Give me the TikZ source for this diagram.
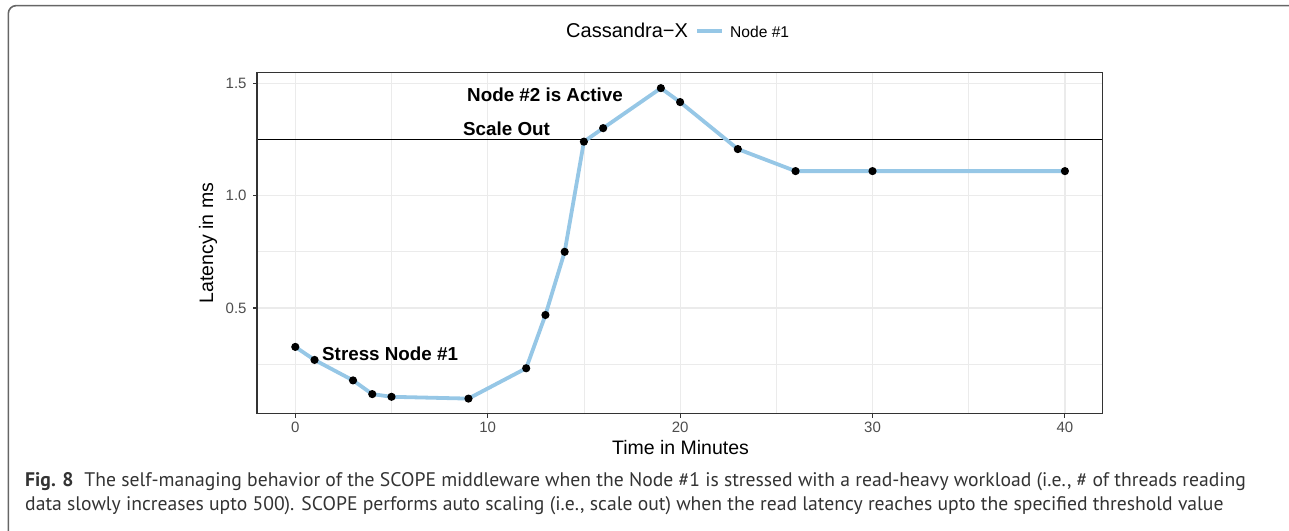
\documentclass[tikz,border=0pt]{standalone}
\usepackage{fontspec}
\newfontfamily\plotfont{Liberation Sans}
\newfontfamily\capfont{PT Sans}
\definecolor{gridc}{HTML}{EBEBEB}
\definecolor{axisc}{HTML}{333333}
\definecolor{tickc}{HTML}{4D4D4D}
\definecolor{linec}{HTML}{96C7E6}
\definecolor{capc}{HTML}{333333}
\tikzset{
  majorgrid/.style={draw=gridc, line width=1.2pt},
  minorgrid/.style={draw=gridc, line width=0.7pt},
  ticklab/.style={font=\plotfont\fontsize{15}{15}\selectfont, text=tickc, inner sep=0pt},
  axtitle/.style={font=\plotfont\fontsize{19.5}{20}\selectfont, text=black, inner sep=0pt},
  annot/.style={font=\plotfont\bfseries\fontsize{18.8}{19}\selectfont, text=black, inner sep=0pt},
  capline/.style={font=\capfont\fontsize{19.65}{22}\selectfont, text=capc, inner sep=0pt, anchor=base west},
  series/.style={draw=linec, line width=3.8pt, line join=round, line cap=round},
  datapt/.style={fill=black},
}
\begin{document}
\begin{tikzpicture}[x=1pt,y=-1pt]
\useasboundingbox (0,0) rectangle (1289,530);
\begin{scope}
\clip (0,0) rectangle (1289,530);
\draw[draw=black!60, line width=1.6pt, rounded corners=8pt] (8.3,5.6) rectangle (1330,580);
\end{scope}

% legend
\node[font=\plotfont\fontsize{20}{20}\selectfont, anchor=base west, inner sep=0pt] (legtitle) at (566,37) {Cassandra−X};
\coordinate (legA) at (697,31);
\coordinate (legB) at (722,31);
\draw[draw=linec, line width=3.8pt] (legA) -- (legB);
\node[font=\plotfont\fontsize{15.6}{16}\selectfont, anchor=base west, inner sep=0pt] (legkey) at (730,37) {Node \#1};

% data scope
\begin{scope}[shift={(295.3pt,-420.4pt)}, x=19.24pt, y=224.8pt]
  % minor grid
  \foreach \t in {5,15,25,35} \draw[minorgrid] (\t,0.0298) -- (\t,1.549);
  \foreach \v in {0.25,0.75,1.25} \draw[minorgrid] (-1.99,\v) -- (41.97,\v);
  % major grid
  \foreach \t in {0,10,20,30,40} \draw[majorgrid] (\t,0.0298) -- (\t,1.549);
  \foreach \v in {0.5,1.0,1.5} \draw[majorgrid] (-1.99,\v) -- (41.97,\v);
  % threshold
  \coordinate (thrL) at (-1.99,1.25);
  \coordinate (thrR) at (41.97,1.25);
  \draw[black, line width=1.3pt] (thrL) -- (thrR);
  % series
  \draw[series] (0,0.327) -- (1,0.269) -- (3,0.178) -- (4,0.117) -- (5,0.105) -- (9,0.097)
     -- (12,0.232) -- (13,0.469) -- (14,0.75) -- (15,1.24) -- (16,1.30) -- (19,1.478)
     -- (20,1.416) -- (23,1.207) -- (26,1.109) -- (30,1.109) -- (40,1.109);
  \foreach \t/\v in {0/0.327,1/0.269,3/0.178,4/0.117,5/0.105,9/0.097,12/0.232,13/0.469,14/0.75,15/1.24,16/1.30,19/1.478,20/1.416,23/1.207,26/1.109,30/1.109,40/1.109}
    \fill[datapt] (\t,\v) circle[radius=4.1pt];
  % panel border
  \draw[axisc, line width=1.2pt] (-1.99,0.0298) rectangle (41.97,1.549);
  % ticks and labels
  \foreach \t in {0,10,20,30,40} {
    \draw[axisc, line width=1.1pt] (\t,0.0298) -- ++(0,-4.5pt);
    \node[ticklab, anchor=base] at ([yshift=-12.3pt]\t,0) {\t};
  }
  \foreach \v/\l in {0.5/0.5,1.0/1.0,1.5/1.5} {
    \draw[axisc, line width=1.1pt] (-1.99,\v) -- ++(-4.5pt,0);
    \node[ticklab, anchor=east] at ([xshift=-10.3pt]-1.99,\v) {\l};
  }
\end{scope}

% annotations
\node[annot, anchor=base west] (active) at (467,101.5) {Node \#2 is Active};
\node[annot, anchor=base west] (scaleout) at (463,135.5) {Scale Out};
\node[annot, anchor=base west] (stress) at (322,360.5) {Stress Node \#1};

% axis titles
\node[axtitle, anchor=base] (xtitle) at (680.5,454.3) {Time in Minutes};
\node[axtitle, anchor=base, rotate=90] (ytitle) at (213,243) {Latency in ms};

% caption
\node[capline] (cap1) at (25,486.5) {\textbf{Fig. 8}\hspace{0.55em}The self-managing behavior of the SCOPE middleware when the Node \#1 is stressed with a read-heavy workload (i.e., \# of threads reading};
\node[capline] (cap2) at (25,510.5) {data slowly increases upto 500). SCOPE performs auto scaling (i.e., scale out) when the read latency reaches upto the specified threshold value};
\end{tikzpicture}
\end{document}
